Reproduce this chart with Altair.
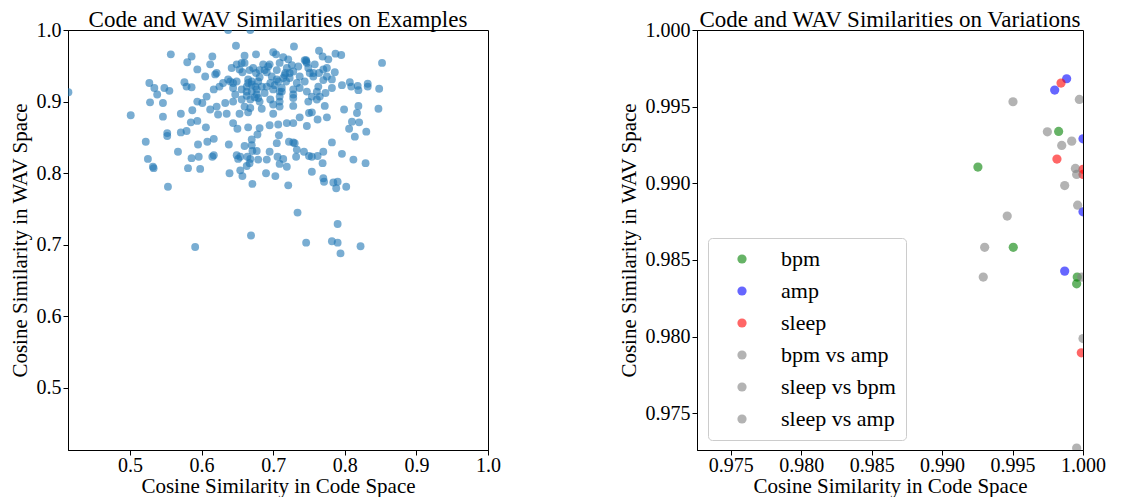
import altair as alt
import pandas as pd

# ---------------- Left panel: examples ----------------
ex_code = [
    0.637, 0.668, 0.414, 0.557, 0.648, 0.729, 0.764, 0.787, 0.795, 0.852,
    0.586, 0.580, 0.615, 0.612, 0.660, 0.676, 0.700, 0.704, 0.714, 0.721,
    0.746, 0.769, 0.777, 0.594, 0.605, 0.527, 0.534, 0.548, 0.555, 0.538,
    0.576, 0.579, 0.586, 0.528, 0.546, 0.501, 0.546, 0.571, 0.587, 0.594,
    0.601, 0.607, 0.594, 0.585, 0.606, 0.571, 0.579, 0.552, 0.552, 0.522,
    0.608, 0.595, 0.617, 0.525, 0.532, 0.533, 0.567, 0.581, 0.586, 0.596,
    0.598, 0.617, 0.615, 0.553, 0.591, 0.638, 0.639,
    0.649, 0.654, 0.651, 0.660, 0.670, 0.671, 0.677, 0.664, 0.668, 0.667, 0.663,
    0.654, 0.657, 0.671, 0.679, 0.691, 0.695, 0.705, 0.706, 0.714, 0.709, 0.719,
    0.690, 0.703, 0.721, 0.722, 0.728, 0.730, 0.733, 0.732,
    0.743, 0.750, 0.754, 0.762, 0.770, 0.769, 0.754, 0.770, 0.771, 0.782, 0.796,
    0.784, 0.790, 0.788, 0.802, 0.734, 0.790, 0.669, 0.746, 0.782, 0.790, 0.794, 0.822,
    0.812, 0.829, 0.814, 0.806, 0.830, 0.810, 0.820, 0.799, 0.819, 0.817, 0.847,
    0.796, 0.807, 0.809, 0.818, 0.819, 0.832, 0.832, 0.848,
    0.775, 0.762, 0.737, 0.750, 0.754, 0.772, 0.747,
    0.644, 0.650, 0.665, 0.681, 0.695, 0.707, 0.719, 0.728, 0.678, 0.708,
    0.623, 0.635, 0.653, 0.665, 0.700,
    0.621, 0.612, 0.660, 0.668, 0.684, 0.709, 0.728,
    0.633, 0.644, 0.656, 0.668, 0.679, 0.696, 0.709, 0.728, 0.749, 0.761,
    0.647, 0.663, 0.674,
    0.617, 0.625, 0.644, 0.656, 0.663, 0.670, 0.677, 0.684, 0.688, 0.700,
    0.709, 0.712, 0.728, 0.737, 0.747, 0.761, 0.773,
    0.619, 0.630, 0.640, 0.649, 0.665, 0.670, 0.679, 0.681, 0.698, 0.705,
    0.714, 0.723, 0.733, 0.744, 0.756, 0.770, 0.775, 0.782, 0.696, 0.707, 0.718,
    0.642, 0.653, 0.667, 0.681, 0.693, 0.705, 0.719, 0.735, 0.749, 0.770,
    0.775, 0.786, 0.621, 0.657, 0.676, 0.691, 0.717, 0.728, 0.756, 0.764,
    0.649, 0.660, 0.686, 0.695, 0.709, 0.726, 0.746, 0.758, 0.672,
    0.670,
    0.665, 0.670, 0.675, 0.663, 0.677, 0.691, 0.702, 0.712, 0.716, 0.723,
    0.737, 0.747, 0.744, 0.751, 0.688, 0.656, 0.728, 0.754, 0.644, 0.637,
    0.681, 0.700, 0.709, 0.763, 0.765, 0.782,
]
ex_wav = [
    1.000, 1.000, 0.913, 0.966, 0.978, 0.977, 0.971, 0.967, 0.965, 0.954,
    0.963, 0.955, 0.963, 0.952, 0.964, 0.966, 0.969, 0.966, 0.962, 0.959,
    0.958, 0.963, 0.959, 0.945, 0.935, 0.926, 0.919, 0.919, 0.915, 0.910,
    0.927, 0.921, 0.920, 0.899, 0.898, 0.881, 0.879, 0.883, 0.888, 0.900,
    0.898, 0.907, 0.873, 0.871, 0.864, 0.857, 0.859, 0.856, 0.852, 0.844,
    0.844, 0.840, 0.848, 0.820, 0.809, 0.807, 0.830, 0.807, 0.821, 0.823,
    0.806, 0.825, 0.823, 0.781, 0.697, 0.840, 0.800,
    0.825, 0.823, 0.820, 0.838, 0.839, 0.831, 0.831, 0.823, 0.820, 0.814, 0.810,
    0.804, 0.796, 0.785, 0.819, 0.819, 0.830, 0.842, 0.823, 0.820, 0.813, 0.809,
    0.800, 0.796, 0.783, 0.844, 0.843, 0.842, 0.833, 0.823,
    0.830, 0.824, 0.823, 0.824, 0.830, 0.814, 0.802, 0.793, 0.788, 0.843, 0.827,
    0.787, 0.788, 0.779, 0.781, 0.745, 0.729, 0.713, 0.703, 0.705, 0.703, 0.688, 0.698,
    0.819, 0.814, 0.851, 0.862, 0.858, 0.872, 0.871, 0.889, 0.894, 0.884, 0.890,
    0.923, 0.927, 0.921, 0.922, 0.916, 0.925, 0.921, 0.918,
    0.878, 0.875, 0.878, 0.884, 0.885, 0.894, 0.866,
    0.870, 0.862, 0.864, 0.863, 0.867, 0.868, 0.870, 0.870, 0.854, 0.853,
    0.882, 0.883, 0.883, 0.885, 0.883,
    0.893, 0.889, 0.893, 0.891, 0.890, 0.893, 0.894,
    0.898, 0.900, 0.903, 0.903, 0.905, 0.903, 0.900, 0.905, 0.900, 0.903,
    0.910, 0.908, 0.906,
    0.917, 0.921, 0.919, 0.917, 0.921, 0.914, 0.917, 0.921, 0.912, 0.917,
    0.914, 0.919, 0.917, 0.919, 0.914, 0.914, 0.912,
    0.938, 0.926, 0.928, 0.928, 0.931, 0.928, 0.928, 0.934, 0.935, 0.931,
    0.933, 0.933, 0.926, 0.928, 0.935, 0.930, 0.935, 0.931, 0.926, 0.928, 0.928,
    0.947, 0.945, 0.944, 0.944, 0.949, 0.944, 0.947, 0.949, 0.947, 0.945,
    0.947, 0.941, 0.940, 0.941, 0.940, 0.941, 0.940, 0.942, 0.940, 0.940,
    0.952, 0.954, 0.952, 0.952, 0.954, 0.951, 0.956, 0.952, 0.947,
    0.847,
    0.926, 0.924, 0.921, 0.914, 0.910, 0.921, 0.923, 0.914, 0.937, 0.940,
    0.935, 0.954, 0.958, 0.940, 0.944, 0.954, 0.910, 0.907, 0.926, 0.931,
    0.900, 0.896, 0.907, 0.921, 0.907, 0.919,
]

# ---------------- Right panel: variations ----------------
var_kinds = ["bpm", "amp", "sleep", "bpm vs amp", "sleep vs bpm", "sleep vs amp"]
var_colors = ["#008000", "#0000ff", "#ff0000", "#808080", "#808080", "#808080"]

bpm_code = [0.99254, 0.99827, 0.99505, 0.99959, 0.99955]
bpm_wav = [0.99106, 0.99338, 0.98582, 0.98388, 0.98344]
amp_code = [0.99799, 0.99884, 1.00000, 1.00000, 0.99870]
amp_wav = [0.99608, 0.99682, 0.99290, 0.98814, 0.98427]
sleep_code = [0.99844, 0.99815, 1.00000, 1.00000, 0.99988]
sleep_wav = [0.99654, 0.99158, 0.99091, 0.99058, 0.97894]
bpm_amp_code = [0.99503, 0.99974, 0.99747, 0.99849, 0.99920]
bpm_amp_wav = [0.99532, 0.99547, 0.99336, 0.99247, 0.99275]
sleep_bpm_code = [0.99946, 0.99955, 0.99870, 0.99962, 0.99462]
sleep_bpm_wav = [0.99097, 0.99058, 0.98985, 0.98857, 0.98786]
sleep_amp_code = [0.99302, 0.99292, 0.99991, 1.00000, 0.99955]
sleep_amp_wav = [0.98582, 0.98388, 0.98388, 0.97987, 0.97273]

FONT = "Liberation Serif"

ex_df = pd.DataFrame({"code": ex_code, "wav": ex_wav})

var_groups = [
    ("bpm", bpm_code, bpm_wav),
    ("amp", amp_code, amp_wav),
    ("sleep", sleep_code, sleep_wav),
    ("bpm vs amp", bpm_amp_code, bpm_amp_wav),
    ("sleep vs bpm", sleep_bpm_code, sleep_bpm_wav),
    ("sleep vs amp", sleep_amp_code, sleep_amp_wav),
]
rows = []
for kind, xs, ys in var_groups:
    for a, b in zip(xs, ys):
        rows.append({"code": a, "wav": b, "kind": kind})
var_df = pd.DataFrame(rows)

x_title = "Cosine Similarity in Code Space"
y_title = "Cosine Similarity in WAV Space"

x_axis_style = dict(labelPadding=0, titlePadding=0)

left = alt.Chart(ex_df).mark_circle(size=62, opacity=0.6, color="#1f77b4", clip=True).encode(
    x=alt.X("code:Q", scale=alt.Scale(domain=[0.4134, 1.0], nice=False, zero=False),
            axis=alt.Axis(values=[0.5, 0.6, 0.7, 0.8, 0.9, 1.0], format=".1f", title=x_title,
                          **x_axis_style)),
    y=alt.Y("wav:Q", scale=alt.Scale(domain=[0.4134, 1.0], nice=False, zero=False),
            axis=alt.Axis(values=[0.5, 0.6, 0.7, 0.8, 0.9, 1.0], format=".1f", title=y_title)),
).properties(width=420, height=420, title="Code and WAV Similarities on Examples")

right = alt.Chart(var_df).mark_circle(size=85, opacity=0.6, clip=True).encode(
    x=alt.X("code:Q", scale=alt.Scale(domain=[0.9726, 1.0], nice=False, zero=False),
            axis=alt.Axis(values=[0.975, 0.98, 0.985, 0.99, 0.995, 1.0], format=".3f", title=x_title,
                          **x_axis_style)),
    y=alt.Y("wav:Q", scale=alt.Scale(domain=[0.9726, 1.0], nice=False, zero=False),
            axis=alt.Axis(values=[0.975, 0.98, 0.985, 0.99, 0.995, 1.0], format=".3f", title=y_title)),
    color=alt.Color("kind:N", scale=alt.Scale(domain=var_kinds, range=var_colors),
                    legend=alt.Legend(title=None, orient="none", legendX=640, legendY=208,
                                      padding=10, strokeColor="#cccccc", cornerRadius=4,
                                      fillColor="white", labelFont=FONT, labelFontSize=22,
                                      labelColor="black", symbolSize=85, symbolType="circle",
                                      symbolOpacity=0.6, symbolStrokeWidth=0, rowPadding=10,
                                      labelOffset=28, symbolOffset=13)),
    order=alt.Order("idx:Q"),
).transform_window(idx="row_number()").properties(
    width=386, height=420, title="Code and WAV Similarities on Variations")

chart = alt.hconcat(left, right, spacing=116).properties(padding=0).configure_view(
    stroke="black", strokeWidth=1
).configure_axis(
    labelFont=FONT, labelFontSize=20, labelColor="black",
    titleFont=FONT, titleFontSize=21, titleFontWeight="normal", titleColor="black",
    tickColor="black", tickSize=5, domainColor="black", grid=False,
    labelFlush=False, labelOverlap=False, labelPadding=2, titlePadding=6,
).configure_title(
    font=FONT, fontSize=23, fontWeight="normal", color="black", anchor="middle", offset=-12
)

chart.save("out.html", embed_options={"renderer": "svg", "actions": False})
